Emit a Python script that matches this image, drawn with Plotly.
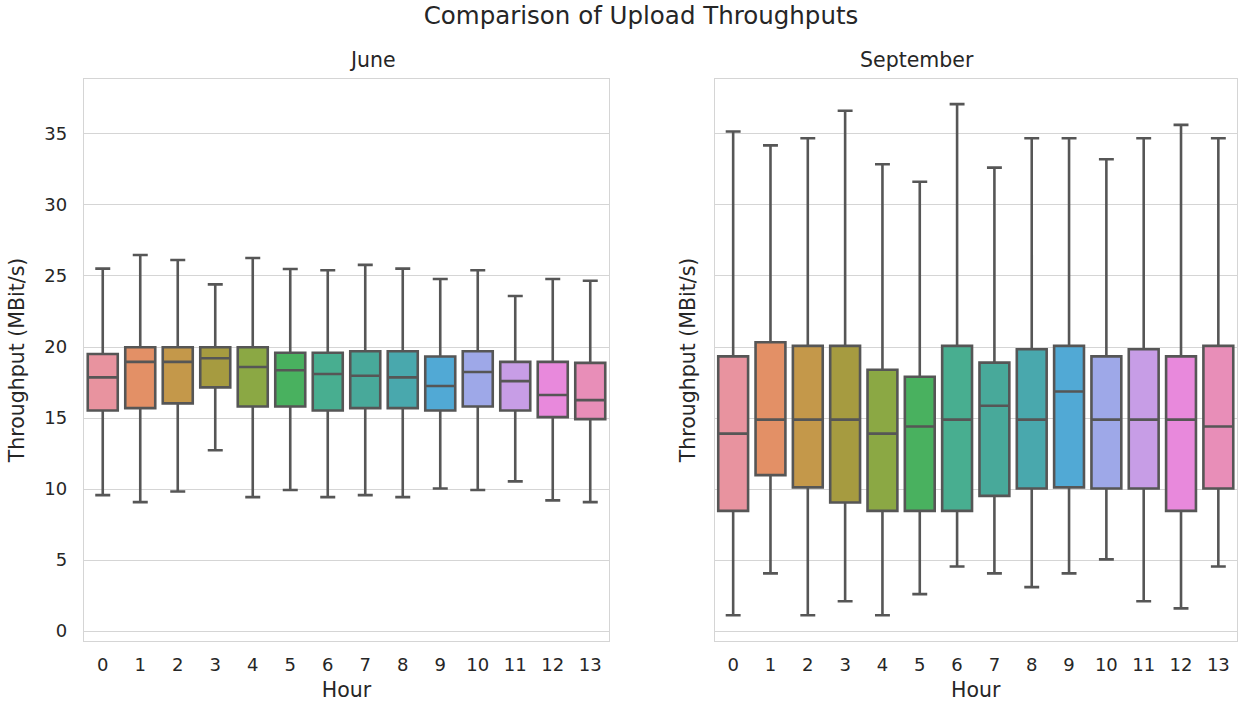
import plotly.graph_objects as go

hours = list(range(14))

# June statistics (MBit/s)
june_low = [9.57, 9.08, 9.83, 12.73, 9.43, 9.93, 9.43, 9.57, 9.43, 10.04, 9.93, 10.54, 9.20, 9.08]
june_q1 = [15.53, 15.70, 16.03, 17.16, 15.81, 15.81, 15.53, 15.70, 15.70, 15.53, 15.81, 15.53, 15.06, 14.92]
june_med = [17.86, 18.95, 18.95, 19.21, 18.59, 18.36, 18.10, 17.98, 17.86, 17.25, 18.24, 17.60, 16.62, 16.26]
june_q3 = [19.51, 19.98, 19.98, 19.98, 19.98, 19.60, 19.60, 19.70, 19.70, 19.33, 19.70, 18.95, 18.95, 18.88]
june_up = [25.52, 26.48, 26.13, 24.41, 26.27, 25.49, 25.40, 25.78, 25.52, 24.79, 25.40, 23.59, 24.79, 24.67]

# September statistics (MBit/s)
sep_low = [1.11, 4.06, 1.11, 2.10, 1.11, 2.60, 4.55, 4.06, 3.09, 4.06, 5.05, 2.10, 1.60, 4.55]
sep_q1 = [8.46, 10.98, 10.12, 9.05, 8.46, 8.46, 8.46, 9.52, 10.04, 10.12, 10.04, 10.04, 8.46, 10.04]
sep_med = [13.90, 14.89, 14.89, 14.89, 13.90, 14.40, 14.89, 15.86, 14.89, 16.87, 14.89, 14.89, 14.89, 14.40]
sep_q3 = [19.34, 20.33, 20.08, 20.08, 18.40, 17.91, 20.08, 18.90, 19.84, 20.08, 19.34, 19.84, 19.34, 20.08]
sep_up = [35.17, 34.20, 34.70, 36.63, 32.87, 31.64, 37.10, 32.63, 34.70, 34.70, 33.22, 34.70, 35.64, 34.70]

colors = ["#E8939F", "#E39066", "#C4984A", "#A69B40", "#8BA844", "#49B15F", "#48AE90",
          "#48A99A", "#49A8AD", "#51A9D5", "#9EA8E8", "#C79DE6", "#E889DC", "#E88EB8"]

TXT = "#262626"
GRID = "#d5d5d5"
FONT = "DejaVu Sans"

fig = go.Figure()

panels = [
    ("x", "y", june_low, june_q1, june_med, june_q3, june_up),
    ("x2", "y2", sep_low, sep_q1, sep_med, sep_q3, sep_up),
]
for xa, ya, lo, q1, md, q3, up in panels:
    for i, h in enumerate(hours):
        fig.add_trace(go.Box(
            x=[h], q1=[q1[i]], median=[md[i]], q3=[q3[i]],
            lowerfence=[lo[i]], upperfence=[up[i]],
            xaxis=xa, yaxis=ya, width=0.8, whiskerwidth=0.5,
            fillcolor=colors[i], line=dict(color="#565656", width=2.6),
            boxpoints=False, showlegend=False, name=str(h),
        ))

W, H = 1238, 704
ml, mr, mt, mb = 84, 1, 79, 63
pw = W - ml - mr
d1 = [0, (609 - ml) / pw]
d2 = [(714.5 - ml) / pw, 1]

xcommon = dict(range=[-0.5, 13.5], tickmode="array", tickvals=hours,
               ticktext=[str(h) for h in hours], showgrid=False, zeroline=False,
               showline=True, mirror=True, linecolor=GRID, linewidth=1.3,
               tickfont=dict(family=FONT, size=18, color=TXT),
               ticks="outside", ticklen=7, tickcolor="rgba(0,0,0,0)",
               title=dict(text="Hour", font=dict(family=FONT, size=20.5, color=TXT), standoff=8))
ycommon = dict(range=[-0.7, 38.87], tickmode="array", tickvals=[0, 5, 10, 15, 20, 25, 30, 35],
               showgrid=True, gridcolor=GRID, gridwidth=1, zeroline=False,
               showline=True, mirror=True, linecolor=GRID, linewidth=1.3,
               tickfont=dict(family=FONT, size=18, color=TXT))
ytitle_font = dict(family=FONT, size=20.5, color=TXT)

fig.update_layout(
    width=W, height=H,
    margin=dict(l=ml, r=mr, t=mt, b=mb),
    paper_bgcolor="white", plot_bgcolor="white",
    xaxis=dict(domain=d1, anchor="y", **xcommon),
    xaxis2=dict(domain=d2, anchor="y2", **xcommon),
    yaxis=dict(domain=[0, 1], anchor="x", ticks="outside", ticklen=12,
               tickcolor="rgba(0,0,0,0)",
               title=dict(text="Throughput (MBit/s)", font=ytitle_font, standoff=14),
               **ycommon),
    yaxis2=dict(domain=[0, 1], anchor="x2", showticklabels=False, ticks="",
                title=dict(text="Throughput (MBit/s)", font=ytitle_font, standoff=12),
                **ycommon),
    boxmode="overlay",
    title=dict(text="Comparison of Upload Throughputs", x=(641 - ml) / pw, xref="paper",
               xanchor="center", y=1 - 15 / H, yanchor="middle",
               font=dict(family=FONT, size=24.5, color=TXT)),
    annotations=[
        dict(text="June", x=(d1[0] + d1[1]) / 2, y=1, xref="paper", yref="paper",
             yanchor="middle", yshift=19, showarrow=False,
             font=dict(family=FONT, size=20.5, color=TXT)),
        dict(text="September", x=(d2[0] + d2[1]) / 2, y=1, xref="paper", yref="paper",
             yanchor="middle", yshift=19, showarrow=False,
             font=dict(family=FONT, size=20.5, color=TXT)),
    ],
)

fig.write_html(
    "out.html",
    config={"displayModeBar": False},
    post_script="document.body.style.margin='0';document.documentElement.style.overflow='hidden';",
)
